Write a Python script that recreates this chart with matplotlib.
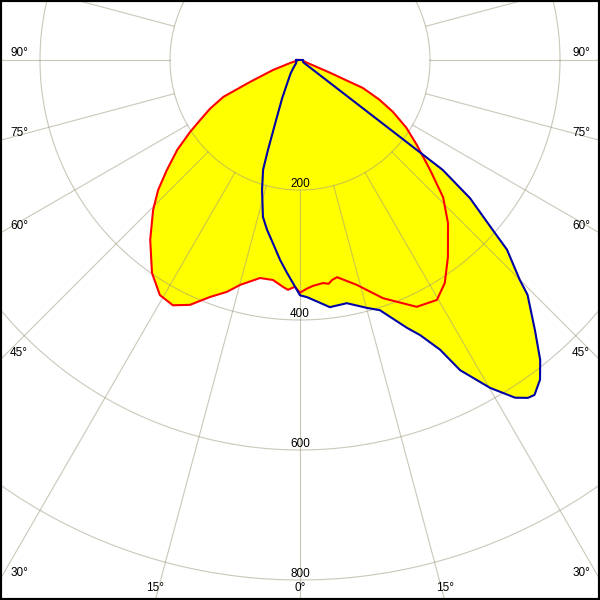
import numpy as np
import matplotlib
matplotlib.use('Agg')
import matplotlib.pyplot as plt

# Luminous intensity (cd), gamma in degrees (0 = straight down)
red_gamma = [-90, -75, -73, -69.7, -66.3, -64.3, -61.5, -59, -56.8, -53.8, -50.4, -47.5, -44.4,
             -39.8, -34.8, -30.8, -27.4, -24.2, -20.8, -17.5, -14.9, -10.4, -7, -4.3, -3,
             -1.3, 0, 1.7, 3.3, 5.9, 7.3, 8.3, 9.7, 14.2, 19.2, 25.3, 29.7, 33, 36.9, 42.2,
             46.2, 49.8, 54, 57.5, 60.8, 63.5, 66, 67, 70, 90]
red_cd = [3, 8, 16, 44, 84, 131, 158, 179, 202, 234, 266, 296, 323,
          360, 399, 421, 425, 413, 390, 374, 358, 341, 341, 350, 354,
          349, 358, 352, 348, 345, 347, 342, 339, 357, 388, 420, 425, 409, 379, 339,
          305, 262, 222, 194, 164, 136, 106, 50, 8, 3]

blue_gamma = [-90, -70, -50, -40, -35, -29, -25, -22, -19.6, -18.6, -16.3, -13.3, -11,
              -8.4, -5.7, -3.5, 0, 1.7, 6.9, 10.9, 15.1, 17.7, 21.8, 23.6, 25.8, 27.3,
              30.1, 32.5, 34, 35, 36.9, 38.7, 41, 44.1, 45, 47.5, 48.6, 50.9, 52.4, 55,
              70, 90]
blue_cd = [6, 6, 8, 16, 25, 40, 65, 95, 147, 178, 208, 248, 266,
           285, 309, 328, 362, 365, 383, 381, 395, 404, 444, 462, 495, 537,
           583, 616, 627, 629, 615, 591, 551, 503, 478, 432, 395, 337, 277, 6,
           5, 5]

ring_values = [200, 400, 600, 800]
spoke_angles = np.arange(0, 360, 15)
label_angles = [0, 15, 30, 45, 60, 75, 90]

SCALE = 0.65          # pixels per cd
W, H = 600, 600
CX, CY = 300, 60      # centre of the diagram in pixels


def to_xy(gamma, cd):
    g = np.radians(np.asarray(gamma, float))
    cd = np.asarray(cd, float)
    return cd * np.sin(g), -cd * np.cos(g)


def px_to_data(px, py):
    return (px - CX) / SCALE, (CY - py) / SCALE


plt.rcParams['font.family'] = ['Liberation Sans', 'DejaVu Sans']

fig = plt.figure(figsize=(6, 6), dpi=100)
ax = fig.add_axes([0, 0, 1, 1])
ax.set_xlim(-CX / SCALE, (W - CX) / SCALE)
ax.set_ylim(-(H - CY) / SCALE, CY / SCALE)
ax.set_aspect('equal')
ax.set_xticks([])
ax.set_yticks([])
for s in ax.spines.values():
    s.set_linewidth(3)
    s.set_color('black')
    s.set_zorder(10)

# Filled curves
xr, yr = to_xy(red_gamma, red_cd)
xb, yb = to_xy(blue_gamma, blue_cd)
ax.fill(xr, yr, color='#ffff00', lw=0, zorder=1)
ax.fill(xb, yb, color='#ffff00', lw=0, zorder=1)

# Grid: rings and spokes (drawn over the fill so they show through)
grid_kw = dict(color='#a09a80', lw=0.8, alpha=0.55, zorder=2)
t = np.linspace(0, 2 * np.pi, 721)
for r in ring_values + [1000]:
    ax.plot(r * np.cos(t), r * np.sin(t), **grid_kw)
for a in spoke_angles:
    gx, gy = to_xy([a, a], [ring_values[0], 1200])
    ax.plot(gx, gy, **grid_kw)

# Curve outlines
ax.plot(np.append(xr, xr[0]), np.append(yr, yr[0]), color='#ff0000', lw=1.5,
        zorder=4, solid_joinstyle='round')
ax.plot(np.append(xb, xb[0]), np.append(yb, yb[0]), color='#0000a8', lw=1.5,
        zorder=5, solid_joinstyle='round')

# Ring labels
for r in ring_values:
    ax.text(0, -r + 6 / SCALE, str(r), ha='center', va='center', fontsize=8.5, zorder=6)

# Angle labels at the border
for a in label_angles:
    ta = np.tan(np.radians(a)) if a < 90 else np.inf
    hit_x = 300 - (H - CY) * ta if a < 90 else -1
    for side in (-1, 1):
        if a == 0 and side == 1:
            continue
        if hit_x >= 0:
            px = CX + side * (CX - hit_x)
            py = 588
        else:
            py = CY + (300 / ta if a < 90 else 0) - 7
            px = 19 if side < 0 else 581
        x, y = px_to_data(px, py)
        ax.text(x, y, f'{a}°', ha='center', va='center', fontsize=8.5, zorder=6)

fig.savefig('out.png', dpi=100)
